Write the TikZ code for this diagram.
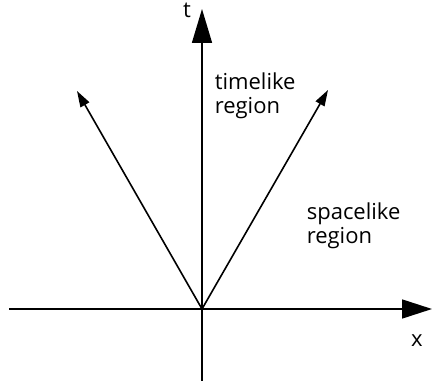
\documentclass[tikz,border=0pt]{standalone}
\usepackage{fontspec}
\setmainfont{Open Sans}
\usetikzlibrary{arrows.meta}
\begin{document}
\begin{tikzpicture}[x=1pt,y=-1pt,line width=1.6pt,
  bigtip/.style={-{Triangle[length=34pt,width=20pt]}},
  xtip/.style={-{Triangle[length=30pt,width=19pt]}},
  smalltip/.style={-{Triangle[length=16pt,width=10pt]}},
  lbl/.style={font=\fontsize{22}{24}\selectfont,align=left,inner sep=0pt}]
\useasboundingbox (0,0) rectangle (432,382);
\coordinate (o) at (202,309);
\coordinate (tbot) at (202,381);
\coordinate (ttop) at (202,9);
\coordinate (xl) at (9,309);
\coordinate (xr) at (432,309);
\coordinate (ul) at (77,91);
\coordinate (ur) at (328,90);
\draw[bigtip] (tbot) -- (ttop);
\draw[xtip] (xl) -- (xr);
\draw[smalltip] (o) -- (ul);
\draw[smalltip] (o) -- (ur);
\node[lbl,anchor=base] (t) at (187,18) {t};
\node[lbl,anchor=base] (x) at (417,347) {x};
\node[lbl,anchor=west] (tl) at (214,96) {timelike\\region};
\node[lbl,anchor=west] (sl) at (306,226) {spacelike\\region};
\end{tikzpicture}
\end{document}
